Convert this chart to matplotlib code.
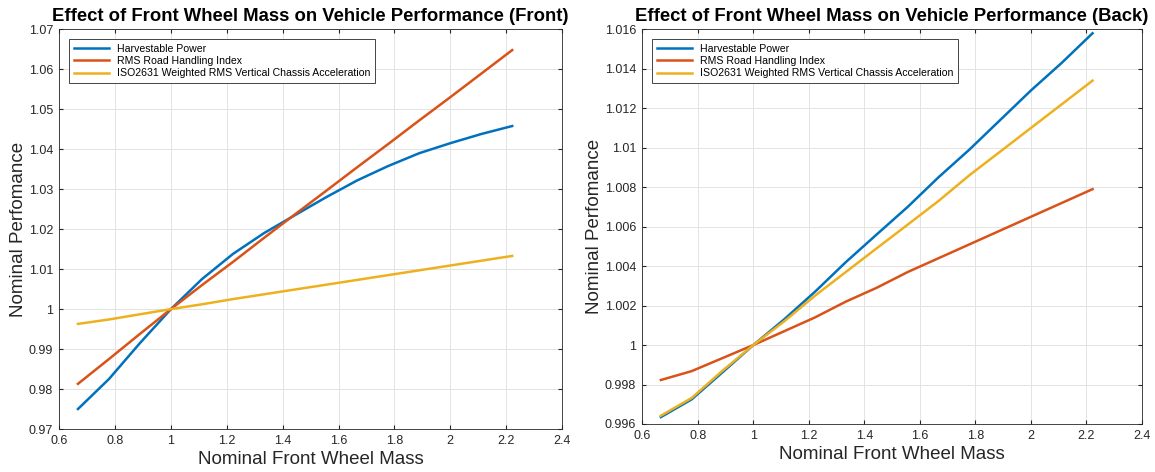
import numpy as np
import matplotlib
matplotlib.use('Agg')
import matplotlib.pyplot as plt

plt.rcParams['font.family'] = ['Liberation Sans', 'DejaVu Sans']

# nominal front wheel mass samples
mass = [0.667, 0.778, 0.889, 1.0, 1.111, 1.222, 1.333, 1.444,
        1.556, 1.667, 1.778, 1.889, 2.0, 2.111, 2.222]

# front
front_power = [0.975, 0.9825, 0.9915, 1.0, 1.0075, 1.0138, 1.019, 1.0235,
               1.028, 1.0322, 1.0358, 1.039, 1.0415, 1.0438, 1.0458]
front_handling = [0.9813, 0.9875, 0.9938, 1.0, 1.006, 1.0118, 1.0178, 1.0237,
                  1.0296, 1.0355, 1.0413, 1.0472, 1.053, 1.0589, 1.0648]
front_accel = [0.9963, 0.9974, 0.9987, 1.0, 1.0012, 1.0025, 1.0037, 1.0049,
               1.0061, 1.0073, 1.0085, 1.0097, 1.0109, 1.0121, 1.0133]

# back
back_power = [0.99635, 0.99725, 0.99862, 1.0, 1.0013, 1.0027, 1.0042, 1.0056,
              1.0070, 1.0085, 1.0099, 1.0114, 1.0129, 1.0143, 1.0158]
back_handling = [0.99823, 0.99868, 0.99934, 1.0, 1.0007, 1.0014, 1.0022, 1.0029,
                 1.0037, 1.0044, 1.0051, 1.0058, 1.0065, 1.0072, 1.0079]
back_accel = [0.99642, 0.99732, 0.9987, 1.0, 1.0012, 1.0025, 1.0037, 1.0049,
              1.0061, 1.0073, 1.0086, 1.0098, 1.0110, 1.0122, 1.0134]

labels = ["Harvestable Power", "RMS Road Handling Index",
          "ISO2631 Weighted RMS Vertical Chassis Acceleration"]
colors = ['#0072BD', '#D95319', '#EDB120']

fig = plt.figure(figsize=(11.55, 4.72), dpi=100)
ax1 = fig.add_axes([0.0513, 0.0911, 0.4352, 0.8468])
ax2 = fig.add_axes([0.5561, 0.1017, 0.4326, 0.8362])

panels = [
    (ax1, [front_power, front_handling, front_accel], "Front",
     (0.97, 1.07), np.arange(0.97, 1.0701, 0.01)),
    (ax2, [back_power, back_handling, back_accel], "Back",
     (0.996, 1.016), np.arange(0.996, 1.01601, 0.002)),
]

xt = np.round(np.arange(0.6, 2.41, 0.2), 1)

for ax, series, name, ylim, yt in panels:
    for ys, lab, c in zip(series, labels, colors):
        ax.plot(mass, ys, color=c, lw=1.8, label=lab)
    ax.set_xlim(0.6, 2.4)
    ax.set_ylim(*ylim)
    ax.set_xticks(xt)
    ax.set_xticklabels([f"{v:g}" for v in xt])
    ax.set_yticks(yt)
    ax.set_yticklabels([f"{round(v, 3):g}" for v in yt])
    ax.grid(True, color='#e3e3e3', lw=0.7)
    ax.set_axisbelow(True)
    ax.tick_params(direction='in', length=3, labelsize=9, colors='#262626',
                   top=True, right=True, pad=4.5)
    for s in ax.spines.values():
        s.set_color('#262626')
        s.set_linewidth(0.6)
    ax.set_xlabel("Nominal Front Wheel Mass", fontsize=13.5, color='#262626', labelpad=3)
    ax.set_ylabel("Nominal Perfomance", fontsize=13.5, color='#262626', labelpad=1.5)
    ax.set_title(f"Effect of Front Wheel Mass on Vehicle Performance ({name})",
                 fontsize=13.3, fontweight='bold', pad=6)
    leg = ax.legend(loc='upper left', fontsize=7.6, fancybox=False, framealpha=1,
                    edgecolor='#262626', borderaxespad=0.95, handlelength=3.4,
                    handletextpad=0.75, labelspacing=0.23, borderpad=0.4)
    leg.get_frame().set_linewidth(0.6)

fig.savefig("out.png", dpi=100)
